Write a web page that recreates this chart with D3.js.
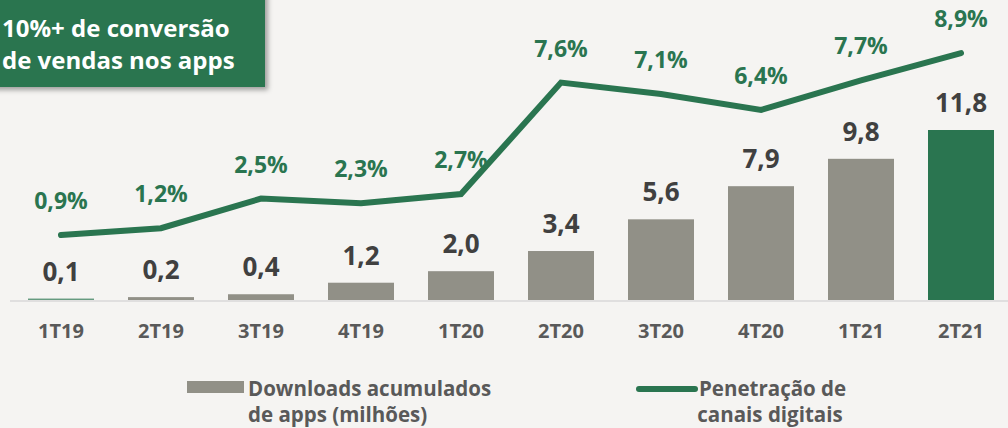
<!DOCTYPE html>
<html>
<head>
<meta charset="utf-8">
<script src="https://cdn.jsdelivr.net/npm/d3@7"></script>
<style>
  html, body { margin: 0; padding: 0; background: #f5f4f2; }
  svg { display: block; font-family: "Open Sans", Lato, sans-serif; }
</style>
</head>
<body>
<script>
    // data
    const quarters = ["1T19", "2T19", "3T19", "4T19", "1T20", "2T20", "3T20", "4T20", "1T21", "2T21"];
    const downloads = [0.1, 0.2, 0.4, 1.2, 2.0, 3.4, 5.6, 7.9, 9.8, 11.8];
    const penetration = [0.9, 1.2, 2.5, 2.3, 2.7, 7.6, 7.1, 6.4, 7.7, 8.9];
    const calloutLines = ["10%+ de conversão", "de vendas nos apps"];

    let width = 1008,
        height = 428;

    const green = "#2a7550",
        gray = "#919087",
        darkText = "#404040",
        axisText = "#595959";

    const fmt = v => v.toFixed(1).replace(".", ",");

    let svg = d3.select("body")
        .append("svg")
        .attr("width", width)
        .attr("height", height);

    svg.append("rect")
        .attr("width", width)
        .attr("height", height)
        .attr("fill", "#f5f4f2");

    // scales
    let x = d3.scaleBand()
        .domain(quarters)
        .range([11, 1011])
        .paddingInner(0.34)
        .paddingOuter(0.17);

    let yBar = d3.scaleLinear().domain([0, 11.8]).range([300, 130]);
    let yLine = d3.scaleLinear().domain([0, 10]).range([255.5, 28]);

    // baseline
    svg.append("line")
        .attr("x1", 10).attr("x2", width)
        .attr("y1", 301).attr("y2", 301)
        .attr("stroke", "#d9d9d9")
        .attr("stroke-width", 1.5);

    // bars
    svg.selectAll("rect.bar")
        .data(downloads)
        .enter().append("rect")
        .attr("class", "bar")
        .attr("x", (d, i) => x(quarters[i]))
        .attr("width", x.bandwidth())
        .attr("y", d => yBar(d))
        .attr("height", d => yBar(0) - yBar(d))
        .attr("fill", (d, i) => (i === 0 || i === quarters.length - 1) ? green : gray)
        .attr("fill-opacity", (d, i) => i === 0 ? 0.7 : 1);

    svg.selectAll("text.barval")
        .data(downloads)
        .enter().append("text")
        .attr("class", "barval")
        .attr("x", (d, i) => x(quarters[i]) + x.bandwidth() / 2)
        .attr("y", d => yBar(d) - 18)
        .attr("text-anchor", "middle")
        .attr("font-size", 26)
        .attr("font-weight", "bold")
        .attr("fill", darkText)
        .text(d => fmt(d));

    // x labels
    svg.selectAll("text.xlab")
        .data(quarters)
        .enter().append("text")
        .attr("class", "xlab")
        .attr("x", d => x(d) + x.bandwidth() / 2)
        .attr("y", 338)
        .attr("text-anchor", "middle")
        .attr("font-size", 20)
        .attr("font-weight", "bold")
        .attr("fill", axisText)
        .text(d => d);

    // line
    let line = d3.line()
        .x((d, i) => x(quarters[i]) + x.bandwidth() / 2)
        .y(d => yLine(d));

    svg.append("path")
        .datum(penetration)
        .attr("d", line)
        .attr("fill", "none")
        .attr("stroke", green)
        .attr("stroke-width", 6)
        .attr("stroke-linecap", "round")
        .attr("stroke-linejoin", "miter");

    svg.selectAll("text.lineval")
        .data(penetration)
        .enter().append("text")
        .attr("class", "lineval")
        .attr("x", (d, i) => x(quarters[i]) + x.bandwidth() / 2)
        .attr("y", d => yLine(d) - 26)
        .attr("text-anchor", "middle")
        .attr("font-size", 23)
        .attr("font-weight", "bold")
        .attr("fill", green)
        .text(d => fmt(d) + "%");

    // legend
    let legend = svg.append("g").attr("font-size", 20.5).attr("font-weight", "bold").attr("fill", axisText);
    legend.append("rect")
        .attr("x", 187).attr("y", 381)
        .attr("width", 57).attr("height", 12)
        .attr("fill", gray);
    legend.append("text").attr("x", 248).attr("y", 396).text("Downloads acumulados");
    legend.append("text").attr("x", 248).attr("y", 422).text("de apps (milhões)");

    legend.append("line")
        .attr("x1", 639).attr("x2", 695)
        .attr("y1", 389).attr("y2", 389)
        .attr("stroke", green)
        .attr("stroke-width", 6)
        .attr("stroke-linecap", "round");
    legend.append("text").attr("x", 699).attr("y", 396).text("Penetração de");
    legend.append("text").attr("x", 770).attr("y", 422).attr("text-anchor", "middle").text("canais digitais");

    // callout box with shadow
    let defs = svg.append("defs");
    let filt = defs.append("filter").attr("id", "shadow").attr("x", "-10%").attr("y", "-10%").attr("width", "130%").attr("height", "140%");
    filt.append("feDropShadow")
        .attr("dx", 3).attr("dy", 3)
        .attr("stdDeviation", 2.5)
        .attr("flood-color", "#000")
        .attr("flood-opacity", 0.35);

    svg.append("rect")
        .attr("x", -10).attr("y", -10)
        .attr("width", 275).attr("height", 97)
        .attr("fill", green)
        .attr("filter", "url(#shadow)");

    svg.selectAll("text.callout")
        .data(calloutLines)
        .enter().append("text")
        .attr("class", "callout")
        .attr("x", 2)
        .attr("y", (d, i) => 37 + i * 32)
        .attr("font-size", 24)
        .attr("font-weight", "bold")
        .attr("fill", "#fff")
        .text(d => d);
</script>
</body>
</html>
